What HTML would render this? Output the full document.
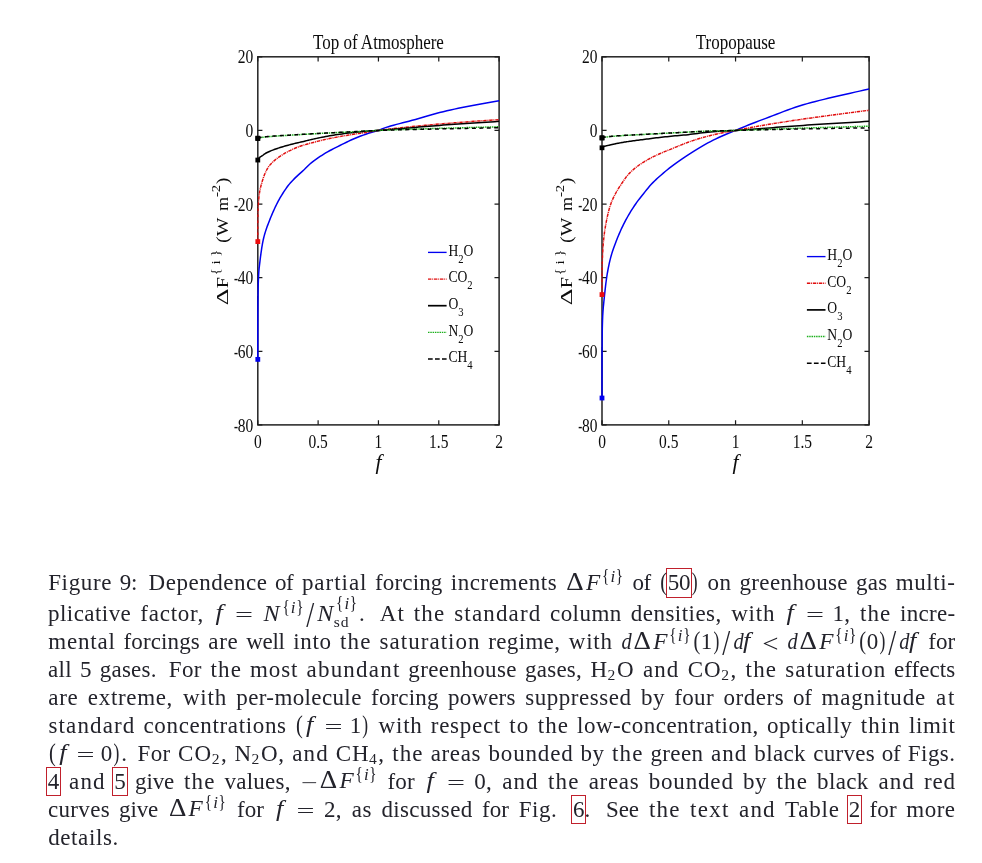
<!DOCTYPE html>
<html lang="en"><head><meta charset="utf-8"><title>Figure 9</title>
<style>
html,body{margin:0;padding:0;background:#fff;}
body{width:982px;height:863px;overflow:hidden;}
svg{display:block;position:absolute;left:0;top:0;}
svg text{font-family:"Liberation Serif",serif;fill:#0a0a0a;}
.cap text{fill:#23232b;font-size:23px;}
.cap .i{font-style:italic;}
.cap .s{font-size:15.6px;}
.cap .si{font-size:15.6px;font-style:italic;}
.links rect{fill:none;stroke:#c0202c;stroke-width:1;}
</style></head>
<body>
<svg width="982" height="863" viewBox="0 0 982 863">
<rect width="982" height="863" fill="#fff"/>
<defs><filter id="soft" x="-5%" y="-5%" width="110%" height="110%"><feGaussianBlur stdDeviation="0.45"/></filter></defs>
<g filter="url(#soft)">
<g>
<rect x="257.8" y="56.8" width="241.30" height="368.10" fill="none" stroke="#1c1c1c" stroke-width="1.45"/>
<path d="M257.80 424.9 v-4.6 M257.80 56.8 v4.6 M318.12 424.9 v-4.6 M318.12 56.8 v4.6 M378.45 424.9 v-4.6 M378.45 56.8 v4.6 M438.78 424.9 v-4.6 M438.78 56.8 v4.6 M499.10 424.9 v-4.6 M499.10 56.8 v4.6 M257.8 56.80 h4.6 M499.1 56.80 h-4.6 M257.8 130.42 h4.6 M499.1 130.42 h-4.6 M257.8 204.04 h4.6 M499.1 204.04 h-4.6 M257.8 277.66 h4.6 M499.1 277.66 h-4.6 M257.8 351.28 h4.6 M499.1 351.28 h-4.6 M257.8 424.90 h4.6 M499.1 424.90 h-4.6" stroke="#1c1c1c" stroke-width="1.2" fill="none"/>
<path d="M257.80 359.38 L257.80 353.85 L257.80 348.46 L257.80 343.19 L257.81 338.06 L257.81 333.07 L257.82 328.23 L257.83 323.53 L257.85 319.00 L257.87 314.62 L257.89 310.41 L257.92 306.37 L257.95 302.50 L257.99 298.81 L258.03 295.31 L258.08 292.00 L258.14 288.88 L258.21 285.96 L258.28 283.25 L258.36 280.74 L258.45 278.45 L258.54 276.36 L258.65 274.45 L258.76 272.69 L258.89 271.05 L259.02 269.50 L259.17 268.01 L259.32 266.56 L259.49 265.11 L259.67 263.63 L259.86 262.10 L260.06 260.49 L260.27 258.77 L260.50 256.97 L260.74 255.11 L261.00 253.21 L261.26 251.30 L261.54 249.37 L261.84 247.45 L262.15 245.56 L262.48 243.70 L262.82 241.89 L263.18 240.15 L263.55 238.49 L263.94 236.89 L264.35 235.34 L264.78 233.82 L265.22 232.34 L265.68 230.88 L266.16 229.44 L266.65 228.01 L267.17 226.57 L267.70 225.13 L268.26 223.67 L268.83 222.19 L269.42 220.68 L270.04 219.13 L270.67 217.56 L271.33 215.96 L272.00 214.35 L272.70 212.72 L273.42 211.08 L274.17 209.44 L274.93 207.79 L275.72 206.14 L276.53 204.49 L277.37 202.84 L278.23 201.21 L279.11 199.59 L280.02 197.98 L280.95 196.39 L281.91 194.82 L282.89 193.25 L283.90 191.68 L284.93 190.11 L285.99 188.57 L287.08 187.05 L288.20 185.57 L289.34 184.13 L290.51 182.75 L291.70 181.43 L292.93 180.15 L294.18 178.89 L295.46 177.63 L296.78 176.37 L298.12 175.12 L299.49 173.90 L300.89 172.67 L302.32 171.40 L303.78 170.05 L305.27 168.58 L306.79 167.01 L308.34 165.44 L309.93 163.98 L311.55 162.63 L313.20 161.33 L314.88 160.06 L316.60 158.83 L318.34 157.62 L320.13 156.44 L321.94 155.28 L323.79 154.12 L325.67 152.98 L327.59 151.87 L329.55 150.78 L331.54 149.72 L333.56 148.66 L335.62 147.61 L337.72 146.56 L339.85 145.50 L342.02 144.42 L344.22 143.32 L346.47 142.21 L348.75 141.10 L351.07 140.02 L353.42 138.96 L355.82 137.95 L358.25 136.97 L360.72 136.01 L363.24 135.08 L365.79 134.17 L368.38 133.30 L371.01 132.47 L373.68 131.73 L376.39 131.03 L379.15 130.18 L381.94 129.02 L384.78 127.87 L387.65 126.91 L390.57 126.03 L393.53 125.19 L396.54 124.39 L399.59 123.61 L402.68 122.83 L405.81 122.04 L408.99 121.21 L412.21 120.34 L415.48 119.41 L418.79 118.44 L422.14 117.44 L425.54 116.43 L428.99 115.42 L432.48 114.42 L436.02 113.46 L439.60 112.55 L443.23 111.66 L446.91 110.81 L450.64 109.97 L454.41 109.14 L458.23 108.33 L462.09 107.53 L466.01 106.74 L469.97 105.95 L473.99 105.17 L478.05 104.40 L482.16 103.64 L486.32 102.90 L490.53 102.16 L494.79 101.43 L499.10 100.71" fill="none" stroke="#0000f0" stroke-width="1.5" stroke-linejoin="round"/>
<path d="M257.80 241.59 L257.80 239.10 L257.80 236.66 L257.80 234.25 L257.81 231.90 L257.81 229.61 L257.82 227.39 L257.83 225.24 L257.85 223.16 L257.87 221.18 L257.89 219.28 L257.92 217.47 L257.95 215.71 L257.99 213.98 L258.03 212.30 L258.08 210.66 L258.14 209.06 L258.21 207.50 L258.28 205.97 L258.36 204.49 L258.45 203.04 L258.54 201.63 L258.65 200.25 L258.76 198.91 L258.89 197.61 L259.02 196.34 L259.17 195.10 L259.32 193.91 L259.49 192.77 L259.67 191.68 L259.86 190.63 L260.06 189.62 L260.27 188.62 L260.50 187.65 L260.74 186.67 L261.00 185.70 L261.26 184.72 L261.54 183.72 L261.84 182.70 L262.15 181.64 L262.48 180.55 L262.82 179.46 L263.18 178.35 L263.55 177.24 L263.94 176.15 L264.35 175.06 L264.78 174.00 L265.22 172.97 L265.68 171.97 L266.16 170.98 L266.65 170.00 L267.17 169.05 L267.70 168.13 L268.26 167.24 L268.83 166.41 L269.42 165.62 L270.04 164.87 L270.67 164.15 L271.33 163.45 L272.00 162.77 L272.70 162.10 L273.42 161.45 L274.17 160.80 L274.93 160.15 L275.72 159.50 L276.53 158.84 L277.37 158.19 L278.23 157.55 L279.11 156.91 L280.02 156.28 L280.95 155.65 L281.91 155.04 L282.89 154.42 L283.90 153.82 L284.93 153.22 L285.99 152.63 L287.08 152.04 L288.20 151.46 L289.34 150.88 L290.51 150.31 L291.70 149.73 L292.93 149.16 L294.18 148.59 L295.46 148.04 L296.78 147.51 L298.12 147.00 L299.49 146.50 L300.89 146.01 L302.32 145.53 L303.78 145.07 L305.27 144.62 L306.79 144.18 L308.34 143.76 L309.93 143.32 L311.55 142.88 L313.20 142.44 L314.88 142.00 L316.60 141.55 L318.34 141.11 L320.13 140.67 L321.94 140.23 L323.79 139.80 L325.67 139.38 L327.59 138.96 L329.55 138.55 L331.54 138.14 L333.56 137.74 L335.62 137.34 L337.72 136.94 L339.85 136.55 L342.02 136.16 L344.22 135.79 L346.47 135.42 L348.75 135.05 L351.07 134.68 L353.42 134.31 L355.82 133.95 L358.25 133.58 L360.72 133.22 L363.24 132.86 L365.79 132.48 L368.38 132.08 L371.01 131.63 L373.68 131.18 L376.39 130.73 L379.15 130.32 L381.94 129.94 L384.78 129.58 L387.65 129.23 L390.57 128.89 L393.53 128.55 L396.54 128.23 L399.59 127.90 L402.68 127.58 L405.81 127.25 L408.99 126.92 L412.21 126.59 L415.48 126.26 L418.79 125.93 L422.14 125.61 L425.54 125.28 L428.99 124.96 L432.48 124.64 L436.02 124.33 L439.60 124.02 L443.23 123.71 L446.91 123.40 L450.64 123.10 L454.41 122.80 L458.23 122.50 L462.09 122.21 L466.01 121.91 L469.97 121.62 L473.99 121.33 L478.05 121.04 L482.16 120.76 L486.32 120.47 L490.53 120.19 L494.79 119.91 L499.10 119.63" fill="none" stroke="#e00c0c" stroke-width="1.45" stroke-dasharray="3.4 0.8 1.0 0.8" stroke-linejoin="round"/>
<path d="M257.80 160.05 L257.80 160.05 L257.80 160.04 L257.80 160.02 L257.81 159.99 L257.81 159.95 L257.82 159.91 L257.83 159.86 L257.85 159.81 L257.87 159.75 L257.89 159.68 L257.92 159.61 L257.95 159.52 L257.99 159.44 L258.03 159.35 L258.08 159.25 L258.14 159.15 L258.21 159.04 L258.28 158.93 L258.36 158.81 L258.45 158.69 L258.54 158.56 L258.65 158.43 L258.76 158.30 L258.89 158.16 L259.02 158.02 L259.17 157.88 L259.32 157.73 L259.49 157.58 L259.67 157.42 L259.86 157.27 L260.06 157.11 L260.27 156.95 L260.50 156.79 L260.74 156.62 L261.00 156.46 L261.26 156.29 L261.54 156.12 L261.84 155.95 L262.15 155.77 L262.48 155.55 L262.82 155.30 L263.18 155.02 L263.55 154.73 L263.94 154.42 L264.35 154.12 L264.78 153.82 L265.22 153.53 L265.68 153.27 L266.16 153.01 L266.65 152.76 L267.17 152.50 L267.70 152.25 L268.26 151.99 L268.83 151.73 L269.42 151.46 L270.04 151.20 L270.67 150.93 L271.33 150.66 L272.00 150.39 L272.70 150.11 L273.42 149.84 L274.17 149.56 L274.93 149.28 L275.72 149.00 L276.53 148.71 L277.37 148.42 L278.23 148.13 L279.11 147.84 L280.02 147.54 L280.95 147.25 L281.91 146.95 L282.89 146.66 L283.90 146.36 L284.93 146.07 L285.99 145.78 L287.08 145.49 L288.20 145.19 L289.34 144.89 L290.51 144.58 L291.70 144.27 L292.93 143.95 L294.18 143.63 L295.46 143.31 L296.78 142.99 L298.12 142.68 L299.49 142.37 L300.89 142.06 L302.32 141.74 L303.78 141.40 L305.27 141.03 L306.79 140.64 L308.34 140.25 L309.93 139.86 L311.55 139.49 L313.20 139.11 L314.88 138.74 L316.60 138.37 L318.34 138.00 L320.13 137.63 L321.94 137.27 L323.79 136.91 L325.67 136.56 L327.59 136.21 L329.55 135.86 L331.54 135.52 L333.56 135.18 L335.62 134.85 L337.72 134.52 L339.85 134.20 L342.02 133.90 L344.22 133.59 L346.47 133.29 L348.75 133.00 L351.07 132.72 L353.42 132.44 L355.82 132.18 L358.25 131.92 L360.72 131.67 L363.24 131.42 L365.79 131.19 L368.38 130.98 L371.01 130.79 L373.68 130.65 L376.39 130.53 L379.15 130.38 L381.94 130.20 L384.78 130.00 L387.65 129.79 L390.57 129.56 L393.53 129.32 L396.54 129.06 L399.59 128.80 L402.68 128.53 L405.81 128.25 L408.99 127.96 L412.21 127.67 L415.48 127.38 L418.79 127.09 L422.14 126.79 L425.54 126.50 L428.99 126.21 L432.48 125.93 L436.02 125.66 L439.60 125.39 L443.23 125.12 L446.91 124.86 L450.64 124.59 L454.41 124.33 L458.23 124.06 L462.09 123.79 L466.01 123.52 L469.97 123.26 L473.99 122.99 L478.05 122.72 L482.16 122.45 L486.32 122.18 L490.53 121.91 L494.79 121.64 L499.10 121.36" fill="none" stroke="#000" stroke-width="1.5" stroke-linejoin="round"/>
<path d="M257.80 138.52 L257.80 138.51 L257.80 138.50 L257.80 138.49 L257.81 138.47 L257.81 138.46 L257.82 138.45 L257.83 138.43 L257.85 138.41 L257.87 138.39 L257.89 138.37 L257.92 138.35 L257.95 138.33 L257.99 138.31 L258.03 138.28 L258.08 138.26 L258.14 138.23 L258.21 138.21 L258.28 138.18 L258.36 138.15 L258.45 138.12 L258.54 138.09 L258.65 138.06 L258.76 138.02 L258.89 137.99 L259.02 137.95 L259.17 137.92 L259.32 137.88 L259.49 137.85 L259.67 137.81 L259.86 137.77 L260.06 137.73 L260.27 137.69 L260.50 137.65 L260.74 137.61 L261.00 137.56 L261.26 137.52 L261.54 137.48 L261.84 137.43 L262.15 137.39 L262.48 137.34 L262.82 137.30 L263.18 137.25 L263.55 137.20 L263.94 137.15 L264.35 137.10 L264.78 137.06 L265.22 137.01 L265.68 136.96 L266.16 136.91 L266.65 136.85 L267.17 136.80 L267.70 136.75 L268.26 136.70 L268.83 136.65 L269.42 136.59 L270.04 136.54 L270.67 136.48 L271.33 136.43 L272.00 136.38 L272.70 136.32 L273.42 136.26 L274.17 136.21 L274.93 136.15 L275.72 136.10 L276.53 136.04 L277.37 135.98 L278.23 135.93 L279.11 135.87 L280.02 135.81 L280.95 135.76 L281.91 135.70 L282.89 135.64 L283.90 135.58 L284.93 135.53 L285.99 135.47 L287.08 135.40 L288.20 135.34 L289.34 135.27 L290.51 135.20 L291.70 135.12 L292.93 135.05 L294.18 134.97 L295.46 134.89 L296.78 134.81 L298.12 134.72 L299.49 134.64 L300.89 134.55 L302.32 134.46 L303.78 134.37 L305.27 134.28 L306.79 134.19 L308.34 134.10 L309.93 134.00 L311.55 133.91 L313.20 133.82 L314.88 133.72 L316.60 133.63 L318.34 133.54 L320.13 133.44 L321.94 133.35 L323.79 133.26 L325.67 133.16 L327.59 133.07 L329.55 132.97 L331.54 132.87 L333.56 132.77 L335.62 132.67 L337.72 132.57 L339.85 132.46 L342.02 132.36 L344.22 132.25 L346.47 132.14 L348.75 132.03 L351.07 131.91 L353.42 131.79 L355.82 131.67 L358.25 131.53 L360.72 131.39 L363.24 131.24 L365.79 131.09 L368.38 130.94 L371.01 130.80 L373.68 130.65 L376.39 130.52 L379.15 130.39 L381.94 130.27 L384.78 130.15 L387.65 130.04 L390.57 129.92 L393.53 129.81 L396.54 129.71 L399.59 129.60 L402.68 129.50 L405.81 129.39 L408.99 129.29 L412.21 129.19 L415.48 129.09 L418.79 128.99 L422.14 128.89 L425.54 128.79 L428.99 128.68 L432.48 128.58 L436.02 128.48 L439.60 128.37 L443.23 128.26 L446.91 128.16 L450.64 128.05 L454.41 127.95 L458.23 127.84 L462.09 127.73 L466.01 127.63 L469.97 127.52 L473.99 127.41 L478.05 127.31 L482.16 127.20 L486.32 127.09 L490.53 126.99 L494.79 126.88 L499.10 126.78" fill="none" stroke="#1fb01f" stroke-width="1.5" stroke-dasharray="1.5 0.8" stroke-linejoin="round"/>
<path d="M257.80 138.15 L257.80 138.15 L257.80 138.14 L257.80 138.13 L257.81 138.12 L257.81 138.11 L257.82 138.10 L257.83 138.09 L257.85 138.07 L257.87 138.06 L257.89 138.04 L257.92 138.03 L257.95 138.01 L257.99 137.99 L258.03 137.97 L258.08 137.95 L258.14 137.92 L258.21 137.90 L258.28 137.87 L258.36 137.85 L258.45 137.82 L258.54 137.79 L258.65 137.77 L258.76 137.74 L258.89 137.70 L259.02 137.67 L259.17 137.64 L259.32 137.61 L259.49 137.57 L259.67 137.54 L259.86 137.50 L260.06 137.47 L260.27 137.43 L260.50 137.39 L260.74 137.35 L261.00 137.31 L261.26 137.27 L261.54 137.23 L261.84 137.19 L262.15 137.15 L262.48 137.10 L262.82 137.06 L263.18 137.02 L263.55 136.97 L263.94 136.92 L264.35 136.88 L264.78 136.83 L265.22 136.79 L265.68 136.74 L266.16 136.69 L266.65 136.64 L267.17 136.59 L267.70 136.54 L268.26 136.49 L268.83 136.44 L269.42 136.39 L270.04 136.34 L270.67 136.29 L271.33 136.24 L272.00 136.19 L272.70 136.13 L273.42 136.08 L274.17 136.03 L274.93 135.98 L275.72 135.92 L276.53 135.87 L277.37 135.81 L278.23 135.76 L279.11 135.71 L280.02 135.65 L280.95 135.60 L281.91 135.54 L282.89 135.49 L283.90 135.44 L284.93 135.38 L285.99 135.32 L287.08 135.26 L288.20 135.20 L289.34 135.13 L290.51 135.06 L291.70 134.99 L292.93 134.92 L294.18 134.84 L295.46 134.76 L296.78 134.68 L298.12 134.60 L299.49 134.51 L300.89 134.43 L302.32 134.34 L303.78 134.25 L305.27 134.16 L306.79 134.07 L308.34 133.98 L309.93 133.89 L311.55 133.79 L313.20 133.70 L314.88 133.61 L316.60 133.52 L318.34 133.43 L320.13 133.33 L321.94 133.24 L323.79 133.15 L325.67 133.06 L327.59 132.96 L329.55 132.87 L331.54 132.77 L333.56 132.67 L335.62 132.57 L337.72 132.47 L339.85 132.37 L342.02 132.27 L344.22 132.16 L346.47 132.05 L348.75 131.94 L351.07 131.83 L353.42 131.72 L355.82 131.60 L358.25 131.47 L360.72 131.33 L363.24 131.18 L365.79 131.04 L368.38 130.89 L371.01 130.75 L373.68 130.62 L376.39 130.50 L379.15 130.39 L381.94 130.30 L384.78 130.20 L387.65 130.12 L390.57 130.03 L393.53 129.95 L396.54 129.87 L399.59 129.79 L402.68 129.72 L405.81 129.65 L408.99 129.57 L412.21 129.50 L415.48 129.43 L418.79 129.37 L422.14 129.30 L425.54 129.23 L428.99 129.15 L432.48 129.08 L436.02 129.01 L439.60 128.93 L443.23 128.85 L446.91 128.78 L450.64 128.70 L454.41 128.62 L458.23 128.54 L462.09 128.47 L466.01 128.39 L469.97 128.31 L473.99 128.23 L478.05 128.16 L482.16 128.08 L486.32 128.00 L490.53 127.92 L494.79 127.85 L499.10 127.77" fill="none" stroke="#000" stroke-width="1.5" stroke-dasharray="3.9 3.5" stroke-linejoin="round"/>
<rect x="255.40" y="356.98" width="4.8" height="4.8" fill="#0000f0"/>
<rect x="255.40" y="239.19" width="4.8" height="4.8" fill="#ee1111"/>
<rect x="255.40" y="157.65" width="4.8" height="4.8" fill="#000"/>
<rect x="255.40" y="136.12" width="4.8" height="4.8" fill="#000"/>
<rect x="255.40" y="135.75" width="4.8" height="4.8" fill="#000"/>
<text transform="translate(257.80,447.80) scale(0.85,1)" font-size="18.2" text-anchor="middle">0</text>
<text transform="translate(318.12,447.80) scale(0.85,1)" font-size="18.2" text-anchor="middle">0.5</text>
<text transform="translate(378.45,447.80) scale(0.85,1)" font-size="18.2" text-anchor="middle">1</text>
<text transform="translate(438.78,447.80) scale(0.85,1)" font-size="18.2" text-anchor="middle">1.5</text>
<text transform="translate(499.10,447.80) scale(0.85,1)" font-size="18.2" text-anchor="middle">2</text>
<text transform="translate(253.20,63.40) scale(0.85,1)" font-size="18.2" text-anchor="end">20</text>
<text transform="translate(253.20,137.02) scale(0.85,1)" font-size="18.2" text-anchor="end">0</text>
<text transform="translate(237.93,210.64) scale(0.66,1)" font-size="18.2" text-anchor="end">-</text><text transform="translate(253.20,210.64) scale(0.85,1)" font-size="18.2" text-anchor="end">20</text>
<text transform="translate(237.93,284.26) scale(0.66,1)" font-size="18.2" text-anchor="end">-</text><text transform="translate(253.20,284.26) scale(0.85,1)" font-size="18.2" text-anchor="end">40</text>
<text transform="translate(237.93,357.88) scale(0.66,1)" font-size="18.2" text-anchor="end">-</text><text transform="translate(253.20,357.88) scale(0.85,1)" font-size="18.2" text-anchor="end">60</text>
<text transform="translate(237.93,431.50) scale(0.66,1)" font-size="18.2" text-anchor="end">-</text><text transform="translate(253.20,431.50) scale(0.85,1)" font-size="18.2" text-anchor="end">80</text>
<text transform="translate(378.45,48.80) scale(0.85,1)" font-size="20" text-anchor="middle">Top of Atmosphere</text>
<text transform="translate(378.45,468.70) scale(1.08,1)" font-size="20" text-anchor="middle" font-style="italic">f</text>
<g transform="translate(227.80,0.00) scale(0.85,1) rotate(-90)" text-anchor="middle"><text transform="translate(-296.80,0) scale(1.3,1)" font-size="20">Δ</text><text transform="translate(-282.70,0) scale(1.0,1)" font-size="20">F</text><text transform="translate(-271.80,-9.6) scale(1.0,1)" font-size="14.8">{</text> <text transform="translate(-262.50,-9.6) scale(1.0,1)" font-size="14.8">i</text> <text transform="translate(-253.10,-9.6) scale(1.0,1)" font-size="14.8">}</text> <text transform="translate(-239.70,0) scale(1.0,1)" font-size="20">(</text><text transform="translate(-226.95,0) scale(0.97,1)" font-size="20">W</text> <text transform="translate(-204.05,0) scale(0.9,1)" font-size="20">m</text><text transform="translate(-194.50,-9.6) scale(1.0,1)" font-size="14.8">-</text><text transform="translate(-188.55,-9.6) scale(1.0,1)" font-size="14.8">2</text><text transform="translate(-180.90,0) scale(1.0,1)" font-size="20">)</text></g>
<path d="M428.0 252.40 h18.6" fill="none" stroke="#0000f0" stroke-width="1.35"/>
<text transform="translate(448.40,255.70) scale(0.83,1)" font-size="16.4" text-anchor="start">H<tspan dy="7" font-size="12.8">2</tspan><tspan dy="-7">O</tspan></text>
<path d="M428.0 279.05 h18.6" fill="none" stroke="#e00c0c" stroke-width="1.35" stroke-dasharray="3.4 0.8 1.0 0.8"/>
<text transform="translate(448.40,282.35) scale(0.83,1)" font-size="16.4" text-anchor="start">CO<tspan dy="7" font-size="12.8">2</tspan></text>
<path d="M428.0 305.70 h18.6" fill="none" stroke="#000" stroke-width="1.7"/>
<text transform="translate(448.40,309.00) scale(0.83,1)" font-size="16.4" text-anchor="start">O<tspan dy="7" font-size="12.8">3</tspan></text>
<path d="M428.0 332.35 h18.6" fill="none" stroke="#1fb01f" stroke-width="1.4" stroke-dasharray="1.5 0.8"/>
<text transform="translate(448.40,335.65) scale(0.83,1)" font-size="16.4" text-anchor="start">N<tspan dy="7" font-size="12.8">2</tspan><tspan dy="-7">O</tspan></text>
<path d="M428.0 359.00 h18.6" fill="none" stroke="#000" stroke-width="1.6" stroke-dasharray="4.7 2.3"/>
<text transform="translate(448.40,362.30) scale(0.83,1)" font-size="16.4" text-anchor="start">CH<tspan dy="7" font-size="12.8">4</tspan></text>
</g>
<g>
<rect x="602.0" y="56.8" width="267.10" height="368.10" fill="none" stroke="#1c1c1c" stroke-width="1.45"/>
<path d="M602.00 424.9 v-4.6 M602.00 56.8 v4.6 M668.77 424.9 v-4.6 M668.77 56.8 v4.6 M735.55 424.9 v-4.6 M735.55 56.8 v4.6 M802.33 424.9 v-4.6 M802.33 56.8 v4.6 M869.10 424.9 v-4.6 M869.10 56.8 v4.6 M602.0 56.80 h4.6 M869.1 56.80 h-4.6 M602.0 130.42 h4.6 M869.1 130.42 h-4.6 M602.0 204.04 h4.6 M869.1 204.04 h-4.6 M602.0 277.66 h4.6 M869.1 277.66 h-4.6 M602.0 351.28 h4.6 M869.1 351.28 h-4.6 M602.0 424.90 h4.6 M869.1 424.90 h-4.6" stroke="#1c1c1c" stroke-width="1.2" fill="none"/>
<path d="M602.00 398.03 L602.00 392.22 L602.00 386.53 L602.00 380.98 L602.01 375.57 L602.01 370.31 L602.02 365.21 L602.04 360.29 L602.05 355.55 L602.07 350.99 L602.10 346.64 L602.13 342.51 L602.17 338.59 L602.21 334.90 L602.26 331.45 L602.31 328.26 L602.38 325.32 L602.45 322.65 L602.53 320.19 L602.62 317.93 L602.71 315.82 L602.82 313.86 L602.94 312.00 L603.07 310.21 L603.20 308.49 L603.35 306.78 L603.51 305.07 L603.68 303.33 L603.87 301.53 L604.07 299.65 L604.28 297.65 L604.50 295.51 L604.74 293.27 L604.99 290.94 L605.26 288.56 L605.54 286.14 L605.83 283.70 L606.15 281.27 L606.47 278.86 L606.82 276.50 L607.18 274.21 L607.56 272.00 L607.95 269.81 L608.37 267.66 L608.80 265.53 L609.25 263.44 L609.72 261.38 L610.21 259.37 L610.72 257.40 L611.25 255.48 L611.80 253.63 L612.37 251.82 L612.96 250.04 L613.57 248.28 L614.21 246.51 L614.87 244.73 L615.55 242.91 L616.25 241.06 L616.97 239.21 L617.72 237.34 L618.50 235.47 L619.29 233.59 L620.12 231.71 L620.96 229.82 L621.84 227.94 L622.74 226.06 L623.66 224.19 L624.61 222.32 L625.59 220.46 L626.59 218.61 L627.63 216.75 L628.69 214.90 L629.77 213.06 L630.89 211.22 L632.04 209.39 L633.21 207.56 L634.41 205.75 L635.65 203.96 L636.91 202.19 L638.20 200.43 L639.53 198.69 L640.89 196.94 L642.27 195.19 L643.69 193.42 L645.14 191.63 L646.63 189.79 L648.14 187.93 L649.69 186.10 L651.28 184.33 L652.89 182.63 L654.54 180.99 L656.23 179.39 L657.95 177.82 L659.70 176.26 L661.49 174.70 L663.32 173.13 L665.18 171.54 L667.08 169.96 L669.02 168.39 L670.99 166.84 L673.00 165.32 L675.05 163.82 L677.13 162.34 L679.26 160.88 L681.42 159.41 L683.62 157.94 L685.86 156.46 L688.14 154.95 L690.46 153.42 L692.82 151.87 L695.22 150.33 L697.66 148.80 L700.15 147.29 L702.67 145.82 L705.24 144.38 L707.85 142.95 L710.50 141.54 L713.19 140.16 L715.93 138.80 L718.71 137.48 L721.53 136.21 L724.40 134.98 L727.31 133.78 L730.27 132.58 L733.27 131.36 L736.32 130.10 L739.41 128.79 L742.55 127.45 L745.74 126.11 L748.97 124.79 L752.25 123.49 L755.57 122.20 L758.95 120.92 L762.37 119.63 L765.84 118.33 L769.35 117.01 L772.92 115.65 L776.54 114.25 L780.20 112.83 L783.91 111.41 L787.68 109.99 L791.49 108.60 L795.36 107.25 L799.27 105.96 L803.24 104.75 L807.26 103.60 L811.33 102.49 L815.45 101.43 L819.63 100.39 L823.86 99.36 L828.14 98.35 L832.47 97.32 L836.86 96.28 L841.30 95.24 L845.80 94.20 L850.35 93.17 L854.95 92.14 L859.61 91.12 L864.33 90.10 L869.10 89.08" fill="none" stroke="#0000f0" stroke-width="1.5" stroke-linejoin="round"/>
<path d="M602.00 294.59 L602.00 292.32 L602.00 290.07 L602.00 287.83 L602.01 285.60 L602.01 283.40 L602.02 281.21 L602.04 279.04 L602.05 276.88 L602.07 274.75 L602.10 272.64 L602.13 270.54 L602.17 268.47 L602.21 266.40 L602.26 264.34 L602.31 262.30 L602.38 260.26 L602.45 258.25 L602.53 256.25 L602.62 254.27 L602.71 252.30 L602.82 250.37 L602.94 248.45 L603.07 246.56 L603.20 244.69 L603.35 242.86 L603.51 241.06 L603.68 239.29 L603.87 237.55 L604.07 235.83 L604.28 234.14 L604.50 232.46 L604.74 230.79 L604.99 229.14 L605.26 227.49 L605.54 225.84 L605.83 224.18 L606.15 222.53 L606.47 220.86 L606.82 219.17 L607.18 217.46 L607.56 215.72 L607.95 213.98 L608.37 212.25 L608.80 210.54 L609.25 208.86 L609.72 207.23 L610.21 205.66 L610.72 204.17 L611.25 202.73 L611.80 201.34 L612.37 199.99 L612.96 198.66 L613.57 197.36 L614.21 196.08 L614.87 194.81 L615.55 193.53 L616.25 192.25 L616.97 190.97 L617.72 189.70 L618.50 188.45 L619.29 187.20 L620.12 185.94 L620.96 184.67 L621.84 183.36 L622.74 182.00 L623.66 180.62 L624.61 179.24 L625.59 177.87 L626.59 176.53 L627.63 175.24 L628.69 174.03 L629.77 172.88 L630.89 171.78 L632.04 170.71 L633.21 169.68 L634.41 168.66 L635.65 167.66 L636.91 166.68 L638.20 165.72 L639.53 164.77 L640.89 163.85 L642.27 162.93 L643.69 162.03 L645.14 161.15 L646.63 160.27 L648.14 159.42 L649.69 158.57 L651.28 157.74 L652.89 156.92 L654.54 156.10 L656.23 155.30 L657.95 154.52 L659.70 153.74 L661.49 152.96 L663.32 152.18 L665.18 151.41 L667.08 150.66 L669.02 149.89 L670.99 149.11 L673.00 148.30 L675.05 147.45 L677.13 146.58 L679.26 145.70 L681.42 144.81 L683.62 143.93 L685.86 143.09 L688.14 142.26 L690.46 141.44 L692.82 140.63 L695.22 139.84 L697.66 139.06 L700.15 138.30 L702.67 137.57 L705.24 136.86 L707.85 136.16 L710.50 135.49 L713.19 134.83 L715.93 134.19 L718.71 133.58 L721.53 133.00 L724.40 132.45 L727.31 131.91 L730.27 131.38 L733.27 130.84 L736.32 130.28 L739.41 129.70 L742.55 129.11 L745.74 128.51 L748.97 127.90 L752.25 127.29 L755.57 126.68 L758.95 126.08 L762.37 125.47 L765.84 124.87 L769.35 124.28 L772.92 123.69 L776.54 123.11 L780.20 122.53 L783.91 121.95 L787.68 121.37 L791.49 120.79 L795.36 120.22 L799.27 119.64 L803.24 119.06 L807.26 118.48 L811.33 117.91 L815.45 117.33 L819.63 116.76 L823.86 116.19 L828.14 115.61 L832.47 115.03 L836.86 114.44 L841.30 113.85 L845.80 113.26 L850.35 112.66 L854.95 112.06 L859.61 111.46 L864.33 110.86 L869.10 110.25" fill="none" stroke="#e00c0c" stroke-width="1.45" stroke-dasharray="3.4 0.8 1.0 0.8" stroke-linejoin="round"/>
<path d="M602.00 147.79 L602.00 147.78 L602.00 147.77 L602.00 147.75 L602.01 147.73 L602.01 147.71 L602.02 147.68 L602.04 147.65 L602.05 147.62 L602.07 147.59 L602.10 147.55 L602.13 147.51 L602.17 147.47 L602.21 147.43 L602.26 147.38 L602.31 147.33 L602.38 147.28 L602.45 147.23 L602.53 147.17 L602.62 147.12 L602.71 147.06 L602.82 147.00 L602.94 146.93 L603.07 146.87 L603.20 146.81 L603.35 146.74 L603.51 146.67 L603.68 146.60 L603.87 146.53 L604.07 146.46 L604.28 146.39 L604.50 146.31 L604.74 146.24 L604.99 146.16 L605.26 146.09 L605.54 146.01 L605.83 145.93 L606.15 145.86 L606.47 145.78 L606.82 145.70 L607.18 145.62 L607.56 145.54 L607.95 145.45 L608.37 145.36 L608.80 145.26 L609.25 145.15 L609.72 145.04 L610.21 144.93 L610.72 144.81 L611.25 144.68 L611.80 144.56 L612.37 144.43 L612.96 144.29 L613.57 144.16 L614.21 144.02 L614.87 143.89 L615.55 143.75 L616.25 143.61 L616.97 143.48 L617.72 143.34 L618.50 143.19 L619.29 143.04 L620.12 142.88 L620.96 142.73 L621.84 142.57 L622.74 142.41 L623.66 142.25 L624.61 142.09 L625.59 141.93 L626.59 141.78 L627.63 141.62 L628.69 141.47 L629.77 141.31 L630.89 141.15 L632.04 140.99 L633.21 140.83 L634.41 140.67 L635.65 140.50 L636.91 140.34 L638.20 140.18 L639.53 140.01 L640.89 139.84 L642.27 139.66 L643.69 139.48 L645.14 139.30 L646.63 139.10 L648.14 138.90 L649.69 138.69 L651.28 138.49 L652.89 138.28 L654.54 138.07 L656.23 137.86 L657.95 137.66 L659.70 137.45 L661.49 137.24 L663.32 137.04 L665.18 136.83 L667.08 136.63 L669.02 136.42 L670.99 136.22 L673.00 136.02 L675.05 135.82 L677.13 135.63 L679.26 135.44 L681.42 135.26 L683.62 135.08 L685.86 134.88 L688.14 134.64 L690.46 134.36 L692.82 134.05 L695.22 133.73 L697.66 133.41 L700.15 133.09 L702.67 132.80 L705.24 132.52 L707.85 132.23 L710.50 131.95 L713.19 131.69 L715.93 131.45 L718.71 131.24 L721.53 131.07 L724.40 130.93 L727.31 130.81 L730.27 130.68 L733.27 130.54 L736.32 130.38 L739.41 130.19 L742.55 129.98 L745.74 129.77 L748.97 129.53 L752.25 129.29 L755.57 129.04 L758.95 128.77 L762.37 128.50 L765.84 128.23 L769.35 127.94 L772.92 127.66 L776.54 127.37 L780.20 127.08 L783.91 126.79 L787.68 126.50 L791.49 126.21 L795.36 125.93 L799.27 125.66 L803.24 125.39 L807.26 125.12 L811.33 124.86 L815.45 124.59 L819.63 124.32 L823.86 124.05 L828.14 123.78 L832.47 123.51 L836.86 123.24 L841.30 122.97 L845.80 122.70 L850.35 122.42 L854.95 122.15 L859.61 121.88 L864.33 121.60 L869.10 121.33" fill="none" stroke="#000" stroke-width="1.5" stroke-linejoin="round"/>
<path d="M602.00 138.00 L602.00 138.00 L602.00 137.99 L602.00 137.98 L602.01 137.97 L602.01 137.96 L602.02 137.95 L602.04 137.94 L602.05 137.93 L602.07 137.91 L602.10 137.89 L602.13 137.88 L602.17 137.86 L602.21 137.84 L602.26 137.81 L602.31 137.79 L602.38 137.77 L602.45 137.74 L602.53 137.72 L602.62 137.69 L602.71 137.66 L602.82 137.63 L602.94 137.60 L603.07 137.57 L603.20 137.54 L603.35 137.51 L603.51 137.47 L603.68 137.44 L603.87 137.40 L604.07 137.36 L604.28 137.33 L604.50 137.29 L604.74 137.25 L604.99 137.21 L605.26 137.17 L605.54 137.12 L605.83 137.08 L606.15 137.04 L606.47 136.99 L606.82 136.95 L607.18 136.90 L607.56 136.86 L607.95 136.81 L608.37 136.76 L608.80 136.71 L609.25 136.67 L609.72 136.62 L610.21 136.57 L610.72 136.52 L611.25 136.46 L611.80 136.41 L612.37 136.36 L612.96 136.31 L613.57 136.26 L614.21 136.20 L614.87 136.15 L615.55 136.09 L616.25 136.04 L616.97 135.98 L617.72 135.93 L618.50 135.87 L619.29 135.81 L620.12 135.76 L620.96 135.70 L621.84 135.64 L622.74 135.59 L623.66 135.53 L624.61 135.47 L625.59 135.41 L626.59 135.35 L627.63 135.30 L628.69 135.24 L629.77 135.18 L630.89 135.12 L632.04 135.06 L633.21 135.00 L634.41 134.94 L635.65 134.88 L636.91 134.82 L638.20 134.76 L639.53 134.69 L640.89 134.62 L642.27 134.54 L643.69 134.46 L645.14 134.38 L646.63 134.30 L648.14 134.22 L649.69 134.13 L651.28 134.04 L652.89 133.95 L654.54 133.86 L656.23 133.77 L657.95 133.67 L659.70 133.57 L661.49 133.48 L663.32 133.38 L665.18 133.28 L667.08 133.17 L669.02 133.07 L670.99 132.97 L673.00 132.87 L675.05 132.76 L677.13 132.66 L679.26 132.55 L681.42 132.43 L683.62 132.31 L685.86 132.18 L688.14 132.05 L690.46 131.92 L692.82 131.79 L695.22 131.67 L697.66 131.55 L700.15 131.44 L702.67 131.34 L705.24 131.25 L707.85 131.16 L710.50 131.08 L713.19 131.01 L715.93 130.94 L718.71 130.87 L721.53 130.80 L724.40 130.72 L727.31 130.65 L730.27 130.57 L733.27 130.49 L736.32 130.40 L739.41 130.30 L742.55 130.20 L745.74 130.09 L748.97 129.98 L752.25 129.87 L755.57 129.75 L758.95 129.63 L762.37 129.51 L765.84 129.38 L769.35 129.26 L772.92 129.13 L776.54 129.00 L780.20 128.87 L783.91 128.74 L787.68 128.61 L791.49 128.49 L795.36 128.36 L799.27 128.23 L803.24 128.11 L807.26 127.99 L811.33 127.86 L815.45 127.74 L819.63 127.61 L823.86 127.49 L828.14 127.36 L832.47 127.24 L836.86 127.11 L841.30 126.99 L845.80 126.86 L850.35 126.73 L854.95 126.61 L859.61 126.48 L864.33 126.35 L869.10 126.22" fill="none" stroke="#1fb01f" stroke-width="1.5" stroke-dasharray="1.5 0.8" stroke-linejoin="round"/>
<path d="M602.00 137.78 L602.00 137.78 L602.00 137.77 L602.00 137.77 L602.01 137.76 L602.01 137.75 L602.02 137.74 L602.04 137.73 L602.05 137.72 L602.07 137.70 L602.10 137.69 L602.13 137.67 L602.17 137.65 L602.21 137.63 L602.26 137.61 L602.31 137.59 L602.38 137.57 L602.45 137.55 L602.53 137.52 L602.62 137.50 L602.71 137.47 L602.82 137.44 L602.94 137.41 L603.07 137.38 L603.20 137.35 L603.35 137.32 L603.51 137.29 L603.68 137.26 L603.87 137.22 L604.07 137.19 L604.28 137.15 L604.50 137.11 L604.74 137.08 L604.99 137.04 L605.26 137.00 L605.54 136.96 L605.83 136.92 L606.15 136.88 L606.47 136.83 L606.82 136.79 L607.18 136.75 L607.56 136.70 L607.95 136.66 L608.37 136.61 L608.80 136.57 L609.25 136.52 L609.72 136.47 L610.21 136.42 L610.72 136.38 L611.25 136.33 L611.80 136.28 L612.37 136.23 L612.96 136.18 L613.57 136.13 L614.21 136.08 L614.87 136.02 L615.55 135.97 L616.25 135.92 L616.97 135.87 L617.72 135.81 L618.50 135.76 L619.29 135.70 L620.12 135.65 L620.96 135.60 L621.84 135.54 L622.74 135.49 L623.66 135.43 L624.61 135.37 L625.59 135.32 L626.59 135.26 L627.63 135.21 L628.69 135.15 L629.77 135.09 L630.89 135.04 L632.04 134.98 L633.21 134.92 L634.41 134.87 L635.65 134.81 L636.91 134.75 L638.20 134.69 L639.53 134.62 L640.89 134.55 L642.27 134.48 L643.69 134.41 L645.14 134.33 L646.63 134.25 L648.14 134.17 L649.69 134.09 L651.28 134.00 L652.89 133.92 L654.54 133.83 L656.23 133.74 L657.95 133.65 L659.70 133.55 L661.49 133.46 L663.32 133.36 L665.18 133.26 L667.08 133.16 L669.02 133.06 L670.99 132.96 L673.00 132.86 L675.05 132.76 L677.13 132.66 L679.26 132.55 L681.42 132.44 L683.62 132.31 L685.86 132.19 L688.14 132.06 L690.46 131.92 L692.82 131.79 L695.22 131.67 L697.66 131.55 L700.15 131.44 L702.67 131.34 L705.24 131.24 L707.85 131.16 L710.50 131.07 L713.19 130.99 L715.93 130.92 L718.71 130.84 L721.53 130.77 L724.40 130.70 L727.31 130.63 L730.27 130.55 L733.27 130.48 L736.32 130.40 L739.41 130.32 L742.55 130.24 L745.74 130.17 L748.97 130.09 L752.25 130.01 L755.57 129.93 L758.95 129.85 L762.37 129.78 L765.84 129.70 L769.35 129.62 L772.92 129.54 L776.54 129.46 L780.20 129.39 L783.91 129.31 L787.68 129.23 L791.49 129.16 L795.36 129.08 L799.27 129.01 L803.24 128.93 L807.26 128.86 L811.33 128.78 L815.45 128.71 L819.63 128.63 L823.86 128.56 L828.14 128.49 L832.47 128.41 L836.86 128.34 L841.30 128.27 L845.80 128.20 L850.35 128.13 L854.95 128.06 L859.61 127.98 L864.33 127.91 L869.10 127.84" fill="none" stroke="#000" stroke-width="1.5" stroke-dasharray="3.9 3.5" stroke-linejoin="round"/>
<rect x="599.60" y="395.63" width="4.8" height="4.8" fill="#0000f0"/>
<rect x="599.60" y="292.19" width="4.8" height="4.8" fill="#ee1111"/>
<rect x="599.60" y="145.39" width="4.8" height="4.8" fill="#000"/>
<rect x="599.60" y="135.60" width="4.8" height="4.8" fill="#000"/>
<rect x="599.60" y="135.38" width="4.8" height="4.8" fill="#000"/>
<text transform="translate(602.00,447.80) scale(0.85,1)" font-size="18.2" text-anchor="middle">0</text>
<text transform="translate(668.77,447.80) scale(0.85,1)" font-size="18.2" text-anchor="middle">0.5</text>
<text transform="translate(735.55,447.80) scale(0.85,1)" font-size="18.2" text-anchor="middle">1</text>
<text transform="translate(802.33,447.80) scale(0.85,1)" font-size="18.2" text-anchor="middle">1.5</text>
<text transform="translate(869.10,447.80) scale(0.85,1)" font-size="18.2" text-anchor="middle">2</text>
<text transform="translate(597.40,63.40) scale(0.85,1)" font-size="18.2" text-anchor="end">20</text>
<text transform="translate(597.40,137.02) scale(0.85,1)" font-size="18.2" text-anchor="end">0</text>
<text transform="translate(582.13,210.64) scale(0.66,1)" font-size="18.2" text-anchor="end">-</text><text transform="translate(597.40,210.64) scale(0.85,1)" font-size="18.2" text-anchor="end">20</text>
<text transform="translate(582.13,284.26) scale(0.66,1)" font-size="18.2" text-anchor="end">-</text><text transform="translate(597.40,284.26) scale(0.85,1)" font-size="18.2" text-anchor="end">40</text>
<text transform="translate(582.13,357.88) scale(0.66,1)" font-size="18.2" text-anchor="end">-</text><text transform="translate(597.40,357.88) scale(0.85,1)" font-size="18.2" text-anchor="end">60</text>
<text transform="translate(582.13,431.50) scale(0.66,1)" font-size="18.2" text-anchor="end">-</text><text transform="translate(597.40,431.50) scale(0.85,1)" font-size="18.2" text-anchor="end">80</text>
<text transform="translate(735.55,48.80) scale(0.85,1)" font-size="20" text-anchor="middle">Tropopause</text>
<text transform="translate(735.55,468.70) scale(1.08,1)" font-size="20" text-anchor="middle" font-style="italic">f</text>
<g transform="translate(572.00,0.00) scale(0.85,1) rotate(-90)" text-anchor="middle"><text transform="translate(-296.80,0) scale(1.3,1)" font-size="20">Δ</text><text transform="translate(-282.70,0) scale(1.0,1)" font-size="20">F</text><text transform="translate(-271.80,-9.6) scale(1.0,1)" font-size="14.8">{</text> <text transform="translate(-262.50,-9.6) scale(1.0,1)" font-size="14.8">i</text> <text transform="translate(-253.10,-9.6) scale(1.0,1)" font-size="14.8">}</text> <text transform="translate(-239.70,0) scale(1.0,1)" font-size="20">(</text><text transform="translate(-226.95,0) scale(0.97,1)" font-size="20">W</text> <text transform="translate(-204.05,0) scale(0.9,1)" font-size="20">m</text><text transform="translate(-194.50,-9.6) scale(1.0,1)" font-size="14.8">-</text><text transform="translate(-188.55,-9.6) scale(1.0,1)" font-size="14.8">2</text><text transform="translate(-180.90,0) scale(1.0,1)" font-size="20">)</text></g>
<path d="M806.9 256.60 h18.6" fill="none" stroke="#0000f0" stroke-width="1.35"/>
<text transform="translate(827.30,259.90) scale(0.83,1)" font-size="16.4" text-anchor="start">H<tspan dy="7" font-size="12.8">2</tspan><tspan dy="-7">O</tspan></text>
<path d="M806.9 283.25 h18.6" fill="none" stroke="#e00c0c" stroke-width="1.35" stroke-dasharray="3.4 0.8 1.0 0.8"/>
<text transform="translate(827.30,286.55) scale(0.83,1)" font-size="16.4" text-anchor="start">CO<tspan dy="7" font-size="12.8">2</tspan></text>
<path d="M806.9 309.90 h18.6" fill="none" stroke="#000" stroke-width="1.7"/>
<text transform="translate(827.30,313.20) scale(0.83,1)" font-size="16.4" text-anchor="start">O<tspan dy="7" font-size="12.8">3</tspan></text>
<path d="M806.9 336.55 h18.6" fill="none" stroke="#1fb01f" stroke-width="1.4" stroke-dasharray="1.5 0.8"/>
<text transform="translate(827.30,339.85) scale(0.83,1)" font-size="16.4" text-anchor="start">N<tspan dy="7" font-size="12.8">2</tspan><tspan dy="-7">O</tspan></text>
<path d="M806.9 363.20 h18.6" fill="none" stroke="#000" stroke-width="1.6" stroke-dasharray="4.7 2.3"/>
<text transform="translate(827.30,366.50) scale(0.83,1)" font-size="16.4" text-anchor="start">CH<tspan dy="7" font-size="12.8">4</tspan></text>
</g>
</g>
<g class="links"><rect x="666.5" y="568.5" width="25" height="29"/><rect x="46.5" y="767.5" width="14" height="28"/><rect x="112.5" y="767.5" width="15" height="28"/><rect x="571.5" y="795.5" width="14" height="28"/><rect x="847.5" y="795.5" width="14" height="28"/></g>
<g class="cap">
<g><text class="r" x="48.16" y="589.80" letter-spacing="0.66">Figure</text> <text class="r" x="119.74" y="589.80" letter-spacing="-0.12">9:</text> <text class="r" x="148.58" y="589.80" letter-spacing="0.52">Dependence</text> <text class="r" x="274.93" y="589.80" letter-spacing="-0.44">of</text> <text class="r" x="301.89" y="589.80" letter-spacing="0.98">partial</text> <text class="r" x="375.03" y="589.80" letter-spacing="0.15">forcing</text> <text class="r" x="450.66" y="589.80" letter-spacing="0.58">increments</text> <text class="r" transform="translate(566.22,589.65) scale(1.177,1.097)">Δ</text><text class="i" transform="translate(585.92,589.67) scale(1.015,1.048)">F</text><text class="s" transform="translate(602.02,581.60) scale(0.970,1.191)">{</text><text class="si" transform="translate(610.48,581.52) scale(1.091,1.040)">i</text><text class="s" transform="translate(615.83,581.61) scale(0.970,1.191)">}</text> <text class="r" x="632.51" y="589.80" letter-spacing="-0.44">of</text> <text class="r" transform="translate(660.28,590.20) scale(0.889,1.055)">(</text><text class="r" x="667.74" y="589.80" letter-spacing="-0.15">50</text><text class="r" transform="translate(691.72,590.20) scale(0.762,1.055)">)</text> <text class="r" x="707.53" y="589.80" letter-spacing="0.48">on</text> <text class="r" x="739.42" y="589.80" letter-spacing="0.38">greenhouse</text> <text class="r" x="855.94" y="589.80" letter-spacing="0.33">gas</text> <text class="r" x="895.68" y="589.80" letter-spacing="0.61">multi-</text></g>
<g><text class="r" x="48.05" y="620.90" letter-spacing="0.45">plicative</text> <text class="r" x="140.32" y="620.90" letter-spacing="0.75">factor,</text> <text class="i" transform="translate(215.46,620.39) scale(1.139,0.991)">f</text> <text class="r" transform="translate(235.04,620.95) scale(1.388,0.800)">=</text> <text class="i" transform="translate(263.59,620.76) scale(1.050,1.048)">N</text><text class="s" transform="translate(282.40,612.70) scale(0.969,1.191)">{</text><text class="si" transform="translate(290.86,612.62) scale(1.091,1.040)">i</text><text class="s" transform="translate(296.21,612.71) scale(0.970,1.191)">}</text><text class="r" transform="translate(306.35,626.59) scale(1.247,1.548)">/</text><text class="i" transform="translate(317.26,620.76) scale(1.050,1.048)">N</text><text class="s" transform="translate(336.07,609.27) scale(0.970,1.191)">{</text><text class="si" transform="translate(344.52,609.19) scale(1.091,1.040)">i</text><text class="s" transform="translate(349.87,609.28) scale(0.970,1.191)">}</text><text class="s" x="333.84" y="626.73" letter-spacing="0.87">sd</text> <text class="r" x="359.08" y="620.90" letter-spacing="0.56">.</text> <text class="r" x="379.73" y="620.90" letter-spacing="1.11">At</text> <text class="r" x="413.84" y="620.90" letter-spacing="1.14">the</text> <text class="r" x="454.28" y="620.90" letter-spacing="1.15">standard</text> <text class="r" x="549.96" y="620.90" letter-spacing="0.48">column</text> <text class="r" x="630.74" y="620.90" letter-spacing="0.48">densities,</text> <text class="r" x="731.18" y="620.90" letter-spacing="0.81">with</text> <text class="i" transform="translate(786.40,620.39) scale(1.139,0.991)">f</text> <text class="r" transform="translate(805.97,620.95) scale(1.388,0.800)">=</text> <text class="r" x="832.60" y="620.90" letter-spacing="0.20">1,</text> <text class="r" x="859.95" y="620.90" letter-spacing="1.14">the</text> <text class="r" x="899.96" y="620.90" letter-spacing="0.31">incre-</text></g>
<g><text class="r" x="48.24" y="648.85" letter-spacing="0.81">mental</text> <text class="r" x="123.48" y="648.85" letter-spacing="0.13">forcings</text> <text class="r" x="208.29" y="648.85" letter-spacing="0.73">are</text> <text class="r" x="246.16" y="648.85" letter-spacing="-0.28">well</text> <text class="r" x="293.22" y="648.85" letter-spacing="0.67">into</text> <text class="r" x="340.01" y="648.85" letter-spacing="1.14">the</text> <text class="r" x="379.59" y="648.85" letter-spacing="1.03">saturation</text> <text class="r" x="488.36" y="648.85" letter-spacing="0.32">regime,</text> <text class="r" x="568.72" y="648.85" letter-spacing="0.81">with</text> <text class="i" transform="translate(621.53,648.95) scale(0.889,1.013)">d</text><text class="r" transform="translate(633.57,648.70) scale(1.177,1.097)">Δ</text><text class="i" transform="translate(653.25,648.72) scale(1.015,1.048)">F</text><text class="s" transform="translate(669.36,640.65) scale(0.970,1.191)">{</text><text class="si" transform="translate(677.81,640.57) scale(1.091,1.040)">i</text><text class="s" transform="translate(683.16,640.66) scale(0.969,1.191)">}</text><text class="r" transform="translate(693.39,649.25) scale(0.889,1.055)">(</text><text class="r" x="700.85" y="648.85" letter-spacing="-0.15">1</text><text class="r" transform="translate(713.48,649.26) scale(0.762,1.055)">)</text><text class="r" transform="translate(722.31,654.54) scale(1.247,1.548)">/</text><text class="i" transform="translate(733.41,648.95) scale(0.889,1.013)">d</text><text class="i" transform="translate(743.07,648.34) scale(1.139,0.991)">f</text> <text class="r" transform="translate(762.16,651.61) scale(1.256,1.068)">&lt;</text> <text class="i" transform="translate(787.47,648.95) scale(0.889,1.013)">d</text><text class="r" transform="translate(799.51,648.70) scale(1.177,1.097)">Δ</text><text class="i" transform="translate(819.20,648.72) scale(1.015,1.048)">F</text><text class="s" transform="translate(835.30,640.65) scale(0.970,1.191)">{</text><text class="si" transform="translate(843.75,640.57) scale(1.091,1.040)">i</text><text class="s" transform="translate(849.10,640.66) scale(0.970,1.191)">}</text><text class="r" transform="translate(859.33,649.25) scale(0.889,1.055)">(</text><text class="r" x="866.79" y="648.85" letter-spacing="-0.15">0</text><text class="r" transform="translate(879.42,649.26) scale(0.762,1.055)">)</text><text class="r" transform="translate(888.25,654.54) scale(1.247,1.548)">/</text><text class="i" transform="translate(899.36,648.95) scale(0.889,1.013)">d</text><text class="i" transform="translate(909.01,648.34) scale(1.139,0.991)">f</text> <text class="r" x="928.22" y="648.85" letter-spacing="0.10">for</text></g>
<g><text class="r" x="47.99" y="676.81" letter-spacing="0.32">all</text> <text class="r" x="79.92" y="676.81" letter-spacing="-0.15">5</text> <text class="r" x="99.69" y="676.81" letter-spacing="0.24">gases.</text> <text class="r" x="168.82" y="676.81" letter-spacing="0.38">For</text> <text class="r" x="210.49" y="676.81" letter-spacing="1.14">the</text> <text class="r" x="250.09" y="676.81" letter-spacing="0.83">most</text> <text class="r" x="306.53" y="676.81" letter-spacing="1.21">abundant</text> <text class="r" x="408.30" y="676.81" letter-spacing="0.38">greenhouse</text> <text class="r" x="525.01" y="676.81" letter-spacing="0.24">gases,</text> <text class="r" x="590.46" y="676.81" letter-spacing="0.41">H</text><text class="s" x="607.49" y="680.28" letter-spacing="0.41">2</text><text class="r" x="616.98" y="676.81" letter-spacing="1.04">O</text> <text class="r" x="642.88" y="676.81" letter-spacing="1.12">and</text> <text class="r" x="687.65" y="676.81" letter-spacing="1.05">CO</text><text class="s" x="721.37" y="680.28" letter-spacing="0.41">2</text><text class="r" x="730.62" y="676.81" letter-spacing="0.56">,</text> <text class="r" x="745.61" y="676.81" letter-spacing="1.14">the</text> <text class="r" x="785.29" y="676.81" letter-spacing="1.03">saturation</text> <text class="r" x="894.02" y="676.81" letter-spacing="0.06">effects</text></g>
<g><text class="r" x="48.19" y="704.76" letter-spacing="0.73">are</text> <text class="r" x="87.86" y="704.76" letter-spacing="0.66">extreme,</text> <text class="r" x="182.96" y="704.76" letter-spacing="0.81">with</text> <text class="r" x="236.31" y="704.76" letter-spacing="0.38">per-molecule</text> <text class="r" x="371.08" y="704.76" letter-spacing="0.15">forcing</text> <text class="r" x="448.00" y="704.76" letter-spacing="0.19">powers</text> <text class="r" x="525.20" y="704.76" letter-spacing="0.54">suppressed</text> <text class="r" x="640.91" y="704.76" letter-spacing="0.47">by</text> <text class="r" x="674.23" y="704.76" letter-spacing="0.35">four</text> <text class="r" x="723.47" y="704.76" letter-spacing="0.53">orders</text> <text class="r" x="793.08" y="704.76" letter-spacing="-0.44">of</text> <text class="r" x="821.44" y="704.76" letter-spacing="0.84">magnitude</text> <text class="r" x="935.99" y="704.76" letter-spacing="1.79">at</text></g>
<g><text class="r" x="48.41" y="732.71" letter-spacing="1.15">standard</text> <text class="r" x="143.48" y="732.71" letter-spacing="0.65">concentrations</text> <text class="r" transform="translate(295.89,733.11) scale(0.889,1.055)">(</text><text class="i" transform="translate(306.04,732.20) scale(1.139,0.991)">f</text> <text class="r" transform="translate(324.42,732.76) scale(1.388,0.800)">=</text> <text class="r" x="349.68" y="732.71" letter-spacing="-0.15">1</text><text class="r" transform="translate(362.32,733.11) scale(0.762,1.055)">)</text> <text class="r" x="378.52" y="732.71" letter-spacing="0.81">with</text> <text class="r" x="430.80" y="732.71" letter-spacing="0.72">respect</text> <text class="r" x="509.33" y="732.71" letter-spacing="1.14">to</text> <text class="r" x="537.68" y="732.71" letter-spacing="1.14">the</text> <text class="r" x="577.08" y="732.71" letter-spacing="0.47">low-concentration,</text> <text class="r" x="767.03" y="732.71" letter-spacing="0.52">optically</text> <text class="r" x="860.64" y="732.71" letter-spacing="1.14">thin</text> <text class="r" x="908.95" y="732.71" letter-spacing="0.64">limit</text></g>
<g><text class="r" transform="translate(49.12,761.06) scale(0.889,1.055)">(</text><text class="i" transform="translate(59.27,760.15) scale(1.139,0.991)">f</text> <text class="r" transform="translate(76.58,760.71) scale(1.388,0.800)">=</text> <text class="r" x="100.78" y="760.66" letter-spacing="-0.15">0</text><text class="r" transform="translate(113.42,761.07) scale(0.762,1.055)">)</text><text class="r" x="121.31" y="760.66" letter-spacing="0.56">.</text> <text class="r" x="137.48" y="760.66" letter-spacing="0.39">For</text> <text class="r" x="178.11" y="760.66" letter-spacing="1.05">CO</text><text class="s" x="211.83" y="764.13" letter-spacing="0.41">2</text><text class="r" x="221.07" y="760.66" letter-spacing="0.56">,</text> <text class="r" x="234.56" y="760.66" letter-spacing="0.41">N</text><text class="s" x="251.59" y="764.13" letter-spacing="0.41">2</text><text class="r" x="260.95" y="760.66" letter-spacing="0.80">O,</text> <text class="r" x="292.26" y="760.66" letter-spacing="1.12">and</text> <text class="r" x="335.82" y="760.66" letter-spacing="0.73">CH</text><text class="s" x="369.06" y="764.13" letter-spacing="0.41">4</text><text class="r" x="378.31" y="760.66" letter-spacing="0.56">,</text> <text class="r" x="392.16" y="760.66" letter-spacing="1.14">the</text> <text class="r" x="430.64" y="760.66" letter-spacing="0.67">areas</text> <text class="r" x="488.48" y="760.66" letter-spacing="0.84">bounded</text> <text class="r" x="580.60" y="760.66" letter-spacing="0.48">by</text> <text class="r" x="612.06" y="760.66" letter-spacing="1.14">the</text> <text class="r" x="650.39" y="760.66" letter-spacing="0.38">green</text> <text class="r" x="710.91" y="760.66" letter-spacing="1.12">and</text> <text class="r" x="754.30" y="760.66" letter-spacing="0.38">black</text> <text class="r" x="813.14" y="760.66" letter-spacing="0.32">curves</text> <text class="r" x="881.87" y="760.66" letter-spacing="-0.44">of</text> <text class="r" x="907.79" y="760.66" letter-spacing="0.47">Figs.</text></g>
<g><text class="r" x="47.75" y="788.62" letter-spacing="-0.15">4</text> <text class="r" x="69.06" y="788.62" letter-spacing="1.12">and</text> <text class="r" x="114.34" y="788.62" letter-spacing="-0.15">5</text> <text class="r" x="135.02" y="788.62" letter-spacing="-0.13">give</text> <text class="r" x="184.07" y="788.62" letter-spacing="1.14">the</text> <text class="r" x="224.49" y="788.62" letter-spacing="0.26">values,</text> <text class="r" transform="translate(301.11,789.07) scale(1.278,0.800)">−</text><text class="r" transform="translate(319.69,788.46) scale(1.177,1.097)">Δ</text><text class="i" transform="translate(339.38,788.49) scale(1.015,1.048)">F</text><text class="s" transform="translate(355.48,780.42) scale(0.970,1.191)">{</text><text class="si" transform="translate(363.94,780.34) scale(1.091,1.040)">i</text><text class="s" transform="translate(369.28,780.42) scale(0.970,1.191)">}</text> <text class="r" x="387.59" y="788.62" letter-spacing="0.10">for</text> <text class="i" transform="translate(426.60,788.11) scale(1.139,0.991)">f</text> <text class="r" transform="translate(446.91,788.67) scale(1.388,0.800)">=</text> <text class="r" x="474.28" y="788.62" letter-spacing="0.20">0,</text> <text class="r" x="502.17" y="788.62" letter-spacing="1.11">and</text> <text class="r" x="548.07" y="788.62" letter-spacing="1.14">the</text> <text class="r" x="588.68" y="788.62" letter-spacing="0.67">areas</text> <text class="r" x="648.68" y="788.62" letter-spacing="0.84">bounded</text> <text class="r" x="742.93" y="788.62" letter-spacing="0.48">by</text> <text class="r" x="776.55" y="788.62" letter-spacing="1.14">the</text> <text class="r" x="817.01" y="788.62" letter-spacing="0.38">black</text> <text class="r" x="878.43" y="788.62" letter-spacing="1.12">and</text> <text class="r" x="924.12" y="788.62" letter-spacing="0.72">red</text></g>
<g><text class="r" x="47.99" y="816.57" letter-spacing="0.32">curves</text> <text class="r" x="119.12" y="816.57" letter-spacing="-0.13">give</text> <text class="r" transform="translate(168.91,816.42) scale(1.177,1.097)">Δ</text><text class="i" transform="translate(188.60,816.44) scale(1.015,1.048)">F</text><text class="s" transform="translate(204.70,808.37) scale(0.970,1.191)">{</text><text class="si" transform="translate(213.15,808.29) scale(1.091,1.040)">i</text><text class="s" transform="translate(218.50,808.38) scale(0.969,1.191)">}</text> <text class="r" x="236.91" y="816.57" letter-spacing="0.10">for</text> <text class="i" transform="translate(276.02,816.06) scale(1.139,0.991)">f</text> <text class="r" transform="translate(296.51,816.62) scale(1.388,0.800)">=</text> <text class="r" x="324.06" y="816.57" letter-spacing="0.20">2,</text> <text class="r" x="351.80" y="816.57" letter-spacing="0.57">as</text> <text class="r" x="381.39" y="816.57" letter-spacing="0.33">discussed</text> <text class="r" x="481.88" y="816.57" letter-spacing="0.10">for</text> <text class="r" x="518.67" y="816.57" letter-spacing="0.59">Fig.</text> <text class="r" x="572.92" y="816.57" letter-spacing="0.20">6.</text> <text class="r" x="606.10" y="816.57" letter-spacing="-0.14">See</text> <text class="r" x="648.97" y="816.57" letter-spacing="1.14">the</text> <text class="r" x="690.01" y="816.57" letter-spacing="1.30">text</text> <text class="r" x="739.05" y="816.57" letter-spacing="1.12">and</text> <text class="r" x="784.90" y="816.57" letter-spacing="0.82">Table</text> <text class="r" x="848.70" y="816.57" letter-spacing="-0.15">2</text> <text class="r" x="869.61" y="816.57" letter-spacing="0.10">for</text> <text class="r" x="906.35" y="816.57" letter-spacing="0.48">more</text></g>
<g><text class="r" x="48.14" y="844.52" letter-spacing="0.62">details.</text></g>
</g>
</svg>
</body></html>
